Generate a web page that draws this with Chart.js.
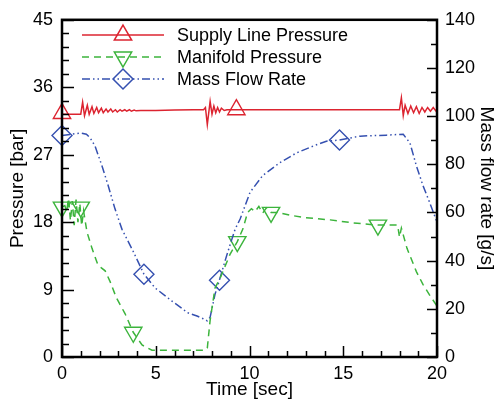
<!DOCTYPE html>
<html>
<head>
<meta charset="utf-8">
<script src="https://cdn.jsdelivr.net/npm/chart.js@4.4.1/dist/chart.umd.min.js"></script>
<style>
  html, body { margin: 0; padding: 0; background: #fff; }
  #zone { width: 498px; height: 402px; }
</style>
</head>
<body>
<div id="zone"><canvas id="graphe" width="498" height="402"></canvas></div>
<script>
// Supply line pressure [bar]
const supplyT = [0, 0.5, 1.0, 1.1, 1.2, 1.35, 1.45, 1.6, 1.7, 1.85, 1.95, 2.1, 2.2, 2.35, 2.45, 2.6, 2.7, 2.85, 2.95, 3.1, 3.2, 3.35, 3.45, 3.6, 3.7, 3.85, 3.95, 4.2, 4.5, 5, 6, 7, 7.55, 7.65, 7.75, 7.9, 8.0, 8.1, 8.2, 8.3, 8.4, 8.5, 8.65, 8.8, 9, 10, 12, 14, 16, 18.0, 18.1, 18.2, 18.3, 18.45, 18.6, 18.75, 18.9, 19.05, 19.2, 19.35, 19.5, 19.65, 19.8, 19.95, 20];
const supplyP = [32.4, 32.4, 32.4, 34.0, 32.2, 33.6, 32.4, 33.4, 32.5, 33.3, 32.6, 33.2, 32.6, 33.1, 32.7, 33.1, 32.7, 33.0, 32.7, 33.0, 32.8, 33.0, 32.8, 33.0, 32.8, 32.95, 32.85, 32.9, 32.9, 32.9, 32.95, 33.0, 33.0, 33.3, 31.0, 34.1, 32.4, 33.5, 32.6, 33.3, 32.7, 33.2, 32.9, 33.0, 33.0, 33.0, 33.0, 33.0, 33.0, 33.0, 34.6, 32.2, 33.6, 32.5, 33.5, 32.6, 33.4, 32.5, 33.3, 32.7, 33.3, 32.8, 33.3, 32.8, 33.2];
const supplyMarkT = [0, 9.3];
const supplyMarkP = [32.5, 33.0];

// Manifold pressure [bar]
const manifoldT = [0, 0.15, 0.25, 0.35, 0.45, 0.55, 0.65, 0.75, 0.85, 0.95, 1.05, 1.15, 1.33, 1.6, 1.9, 2.1, 2.3, 2.56, 2.9, 3.36, 3.8, 4.27, 4.8, 5.2, 6, 7, 7.6, 7.75, 7.9, 8.16, 8.43, 8.96, 9.35, 9.65, 9.9, 10.1, 10.3, 10.5, 10.7, 10.9, 11.15, 11.5, 12.2, 13, 14.3, 15.5, 16.85, 17.9, 18.0, 18.1, 18.2, 18.4, 18.9, 19.25, 19.6, 20];
const manifoldP = [20, 20.2, 19.5, 21.2, 18.2, 20.8, 17.6, 21.0, 18.0, 20.5, 17.5, 19.5, 16.7, 14.5, 12.4, 11.9, 11.5, 10.1, 7.9, 5.8, 3.3, 1.6, 0.9, 0.9, 0.9, 0.9, 0.9, 1.2, 4.9, 9.2, 10.5, 13.7, 15.4, 17.1, 19.3, 19.8, 19.4, 20.1, 19.2, 19.9, 19.3, 19.3, 18.9, 18.6, 18.3, 17.9, 17.6, 17.6, 16.0, 17.2, 16.3, 14.5, 11.4, 9.7, 8.3, 6.8];
const manifoldMarkT = [0, 1.0, 3.8, 9.35, 11.15, 16.85];
const manifoldMarkP = [20, 20, 3.3, 15.4, 19.3, 17.6];

// Mass flow rate [g/s]
const massT = [0, 0.5, 1.0, 1.3, 1.5, 1.76, 2.13, 2.45, 2.83, 3.2, 3.8, 4.37, 4.96, 5.85, 6.7, 7.2, 7.5, 7.75, 7.9, 8.16, 8.4, 8.7, 8.96, 9.23, 9.5, 10.03, 10.7, 11.6, 12.5, 13.4, 14.1, 14.8, 15.9, 17.3, 18.2, 18.56, 18.9, 19.25, 19.6, 20];
const massQ = [92, 92.5, 93, 92.5, 91, 87.6, 79.4, 71.5, 61.4, 53, 43.8, 34.4, 28.7, 23.3, 18.4, 17, 16, 15, 16.5, 26, 32, 40, 46.5, 53, 57.3, 68.4, 75.3, 80.6, 84.7, 87.6, 89.6, 90.1, 91.7, 92.1, 92.5, 88.8, 79.4, 71.2, 64.3, 56];
const massMarkT = [0, 4.37, 8.4, 14.8];
const massMarkQ = [92, 34.4, 31.9, 90.1];

const xTicks = [0, 5, 10, 15, 20];
const yTicks = [0, 9, 18, 27, 36, 45];
const y1Ticks = [0, 20, 40, 60, 80, 100, 120, 140];

const ROUGE = '#dc2430';
const VERT = '#3cb43c';
const BLEU = '#3550b0';
const POLICE = "'Liberation Sans', Arial, sans-serif";

function points(tx, ty) {
    let res = [];
    for (let i = 0; i < tx.length; i++) res.push({ x: tx[i], y: ty[i] });
    return res;
}

function courbe(tx, ty, couleur, tirets, axe) {
    return { data: points(tx, ty), showLine: true, borderColor: couleur, borderWidth: 1.5, borderDash: tirets, pointRadius: 0, fill: false, tension: 0, yAxisID: axe };
}

function marques(tx, ty, couleur, forme, rotation, axe) {
    return {
        data: points(tx, ty), showLine: false, clip: false, yAxisID: axe,
        pointStyle: forme, rotation: rotation, pointRadius: 10,
        pointBorderColor: couleur, pointBackgroundColor: 'rgba(0,0,0,0)', pointBorderWidth: 1.4
    };
}

const legende = [
    { texte: 'Supply Line Pressure', couleur: ROUGE, tirets: [], forme: 'triangle', rotation: 0 },
    { texte: 'Manifold Pressure', couleur: VERT, tirets: [7, 5], forme: 'triangle', rotation: 180 },
    { texte: 'Mass Flow Rate', couleur: BLEU, tirets: [8, 3, 1.5, 3, 1.5, 3], forme: 'rectRot', rotation: 0 }
];

// Cadre, graduations vers l'intérieur et légende
const cadre = {
    id: 'cadre',
    afterDraw(chart) {
        let ctx = chart.ctx;
        let a = chart.chartArea;
        let sx = chart.scales.x, sy = chart.scales.y, sy1 = chart.scales.y1;
        ctx.save();
        ctx.strokeStyle = '#000';

        ctx.lineWidth = 1.5;
        ctx.beginPath();
        for (let v = 0; v <= 20; v += 1) {
            let px = Math.round(sx.getPixelForValue(v)) + 0.5;
            let l = (v % 5 === 0) ? 11 : 6;
            ctx.moveTo(px, a.bottom); ctx.lineTo(px, a.bottom - l);
        }
        for (let k = 0; k <= 25; k++) {
            let py = Math.round(sy.getPixelForValue(k * 1.8)) + 0.5;
            let l = (k % 5 === 0) ? 12 : 7;
            ctx.moveTo(a.left, py); ctx.lineTo(a.left + l, py);
        }
        for (let v = 0; v <= 140; v += 10) {
            let py = Math.round(sy1.getPixelForValue(v)) + 0.5;
            let l = (v % 20 === 0) ? 10 : 6;
            ctx.moveTo(a.right, py); ctx.lineTo(a.right - l, py);
        }
        ctx.stroke();

        ctx.lineWidth = 2.5;
        ctx.strokeRect(a.left, a.top, a.right - a.left, a.bottom - a.top);

        // Légende
        ctx.font = '18px ' + POLICE;
        ctx.textBaseline = 'middle';
        for (let i = 0; i < legende.length; i++) {
            let e = legende[i];
            let y = 35 + i * 22;
            ctx.lineWidth = 1.5;
            ctx.strokeStyle = e.couleur;
            ctx.setLineDash(e.tirets);
            ctx.beginPath();
            ctx.moveTo(82, y); ctx.lineTo(164, y);
            ctx.stroke();
            ctx.setLineDash([]);
            ctx.fillStyle = 'rgba(0,0,0,0)';
            Chart.helpers.drawPoint(ctx, { pointStyle: e.forme, rotation: e.rotation, radius: 10, borderWidth: 1.4 }, 123, y);
            ctx.fillStyle = '#000';
            ctx.fillText(e.texte, 177, y + 1);
        }
        ctx.restore();
    }
};

function largeur(w) { return function (s) { s.width = w; }; }

new Chart(document.getElementById('graphe'), {
    type: 'scatter',
    data: {
        datasets: [
            courbe(supplyT, supplyP, ROUGE, [], 'y'),
            courbe(manifoldT, manifoldP, VERT, [7, 5], 'y'),
            courbe(massT, massQ, BLEU, [8, 3, 1.5, 3, 1.5, 3], 'y1'),
            marques(supplyMarkT, supplyMarkP, ROUGE, 'triangle', 0, 'y'),
            marques(manifoldMarkT, manifoldMarkP, VERT, 'triangle', 180, 'y'),
            marques(massMarkT, massMarkQ, BLEU, 'rectRot', 0, 'y1')
        ]
    },
    options: {
        responsive: false,
        animation: false,
        layout: { padding: { top: 15 } },
        plugins: { legend: { display: false }, tooltip: { enabled: false } },
        scales: {
            x: {
                type: 'linear', min: 0, max: 20,
                afterFit: function (s) { s.height = 45; },
                afterBuildTicks: function (s) { s.ticks = xTicks.map(v => ({ value: v })); },
                grid: { display: false, drawTicks: false },
                border: { display: false },
                ticks: { padding: 6, color: '#000', font: { family: POLICE, size: 18 } },
                title: { display: true, text: 'Time [sec]', color: '#000', font: { family: POLICE, size: 19 }, padding: { top: 0, bottom: 1 } }
            },
            y: {
                type: 'linear', position: 'left', min: 0, max: 45,
                afterFit: largeur(62),
                afterBuildTicks: function (s) { s.ticks = yTicks.map(v => ({ value: v })); },
                grid: { display: false, drawTicks: false },
                border: { display: false },
                ticks: { padding: 9, color: '#000', font: { family: POLICE, size: 18 } },
                title: { display: true, text: 'Pressure [bar]', color: '#000', font: { family: POLICE, size: 19 }, padding: { top: 6, bottom: 0 } }
            },
            y1: {
                type: 'linear', position: 'right', min: 0, max: 140,
                afterFit: largeur(61),
                afterBuildTicks: function (s) { s.ticks = y1Ticks.map(v => ({ value: v })); },
                grid: { display: false, drawTicks: false },
                border: { display: false },
                ticks: { padding: 8, color: '#000', font: { family: POLICE, size: 18 } },
                title: { display: true, text: 'Mass flow rate [g/s]', color: '#000', font: { family: POLICE, size: 19 }, padding: { top: 0, bottom: 0 } }
            }
        }
    },
    plugins: [cadre]
});
</script>
</body>
</html>
